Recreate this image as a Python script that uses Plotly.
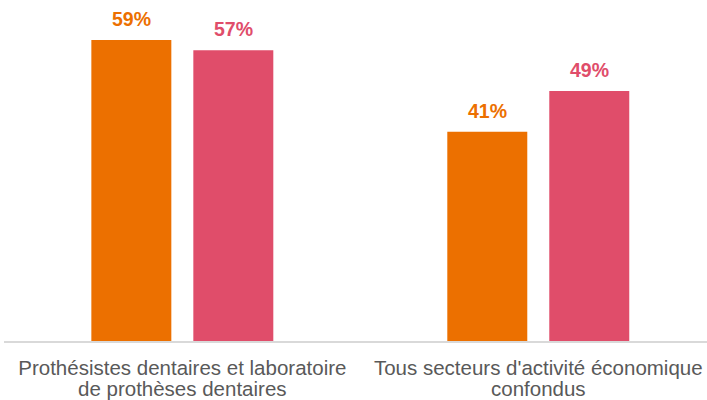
import plotly.graph_objects as go

cat_line1 = ["Prothésistes dentaires et laboratoire",
             "Tous secteurs d'activité économique"]
cat_line2 = ["de prothèses dentaires", "confondus"]
series_a = [59, 41]
series_b = [57, 49]
labels_a = ["59%", "41%"]
labels_b = ["57%", "49%"]

orange = "rgb(236,112,0)"
pink = "rgb(224,77,106)"
gray = "#595959"
xpos = [0, 1]

bargap = 0.427
slot = (1 - bargap) / 2

fig = go.Figure()
fig.add_trace(go.Bar(x=xpos, y=series_a, marker_color=orange, marker_line_width=0))
fig.add_trace(go.Bar(x=xpos, y=series_b, marker_color=pink, marker_line_width=0))

for vals, labs, col, sign in [(series_a, labels_a, orange, -1), (series_b, labels_b, pink, 1)]:
    for xv, v, t in zip(xpos, vals, labs):
        fig.add_annotation(x=xv + sign * slot / 2, y=v, xref="x", yref="y",
                           text=f"<b>{t}</b>", showarrow=False, yanchor="bottom",
                           yshift=8, font=dict(color=col, size=19.5, family="Liberation Sans"))

for xv, t in zip(xpos, cat_line2):
    fig.add_annotation(x=xv, y=0, xref="x", yref="paper", text=t, showarrow=False,
                       yanchor="middle", yshift=-47,
                       font=dict(color=gray, size=20.5, family="Liberation Sans"))

fig.update_layout(
    width=707, height=400,
    margin=dict(l=4, r=0, t=0, b=59),
    barmode="group", bargap=bargap, bargroupgap=0.2157,
    plot_bgcolor="white", paper_bgcolor="white",
    showlegend=False,
    font=dict(family="Liberation Sans"),
)
fig.update_xaxes(range=[-0.501, 1.474], tickvals=xpos, ticktext=cat_line1,
                 showline=True, linecolor="#D9D9D9", linewidth=2,
                 showgrid=False, ticks="", zeroline=False, automargin=False,
                 ticklabelstandoff=7,
                 tickfont=dict(size=20.5, color=gray, family="Liberation Sans"))
fig.update_yaxes(range=[0, 66.84], visible=False, showgrid=False, zeroline=False)

fig.write_html("out.html", config={"displayModeBar": False},
               post_script="document.body.style.margin='0px';")
